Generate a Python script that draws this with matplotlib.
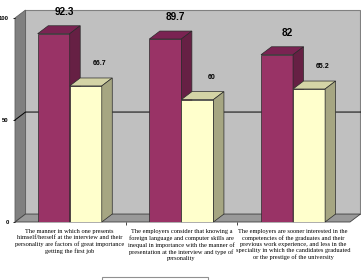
import matplotlib
matplotlib.use("Agg")
import matplotlib.pyplot as plt
from matplotlib.patches import Polygon, Rectangle

# data
categories = [
    "The manner in which one presents\nhimself/herself at the interview and their\n"
    "personality are factors of great importance\ngetting the first job",
    "The employers consider that knowing a\nforeign language and computer skills are\n"
    "inequal in importance with the manner of\npresentation at the interview and type of\npersonality",
    "The employers are sooner interested in the\ncompetencies of the graduates and their\n"
    "previous work experience, and less in the\nspeciality in which the candidates graduated\n"
    "or the prestige of the university",
]
series1 = [92.3, 89.7, 82]
series2 = [66.7, 60, 65.2]

# fake 3d settings
w = 0.287
dx, dy = 0.094, 3.9
xmin, xmax = -0.49, 2.51

fig = plt.figure(figsize=(3.61, 2.80), dpi=100)
ax = fig.add_axes([15 / 361, 58 / 280, 335 / 361, 204 / 280])
ax.set_xlim(xmin, xmax)
ax.set_ylim(0, 100)
for s in ax.spines.values():
    s.set_visible(False)

# walls and floor
wall = Polygon([(xmin + dx, dy), (xmax + dx, dy), (xmax + dx, 100 + dy), (xmin + dx, 100 + dy)],
               closed=True, fc="#c0c0c0", ec="#808080", lw=0.8, zorder=0, clip_on=False)
side = Polygon([(xmin, 0), (xmin + dx, dy), (xmin + dx, 100 + dy), (xmin, 100)],
               closed=True, fc="#808080", ec="#606060", lw=0.6, zorder=0, clip_on=False)
floor = Polygon([(xmin, 0), (xmax, 0), (xmax + dx, dy), (xmin + dx, dy)],
                closed=True, fc="#999999", ec="#404040", lw=0.6, zorder=0, clip_on=False)
for p in (wall, side, floor):
    ax.add_patch(p)
ax.plot([xmin, xmin + dx, xmax + dx], [50, 50 + dy, 50 + dy], color="black", lw=0.7,
        zorder=0.5, clip_on=False)


def bar3d(x0, v, front, top, right, z):
    ax.bar(x0, v, w, align="edge", color=front, edgecolor="#2a2a2a", lw=0.5, zorder=z)
    ax.add_patch(Polygon([(x0, v), (x0 + w, v), (x0 + w + dx, v + dy), (x0 + dx, v + dy)],
                         closed=True, fc=top, ec="#2a2a2a", lw=0.5, zorder=z, clip_on=False))
    ax.add_patch(Polygon([(x0 + w, 0), (x0 + w + dx, dy), (x0 + w + dx, v + dy), (x0 + w, v)],
                         closed=True, fc=right, ec="#2a2a2a", lw=0.5, zorder=z, clip_on=False))


for i in range(len(categories)):
    bar3d(i - w, series1[i], "#993366", "#7a2352", "#662044", 2 + i)
    bar3d(i, series2[i], "#ffffcc", "#d4d4a6", "#a6a682", 2.5 + i)
    ax.text(i - w / 2 + dx, series1[i] + 8.3, f"{series1[i]:g}", ha="center", va="bottom",
            fontsize=7.2, fontweight="bold", family="Liberation Sans", zorder=10)
    ax.text(i + w / 2 + dx + 0.03, series2[i] + 9.2, f"{series2[i]:g}", ha="center", va="bottom",
            fontsize=5, fontweight="bold", family="Liberation Sans", zorder=10)

ax.set_yticks([0, 50, 100])
ax.set_yticklabels(["0", "50", "100"], fontsize=4.2, fontweight="bold", family="Liberation Sans")
ax.tick_params(axis="y", length=1.5, width=0.6, pad=3)

ax.set_xticks([0, 1, 2])
ax.set_xticklabels(categories, fontsize=4.6, family="Liberation Serif", linespacing=1.3)
ax.set_xticks([0.5, 1.5], minor=True)
ax.tick_params(axis="x", which="major", length=0, pad=5)
ax.tick_params(axis="x", which="minor", length=2, width=0.5)

# legend box cut at the bottom edge
fig.add_artist(Rectangle((102 / 361, -0.05), 106 / 361, 0.05 + 3 / 280,
                         transform=fig.transFigure, fc="white", ec="#909090", lw=0.8))

fig.savefig("out.png", dpi=100)
